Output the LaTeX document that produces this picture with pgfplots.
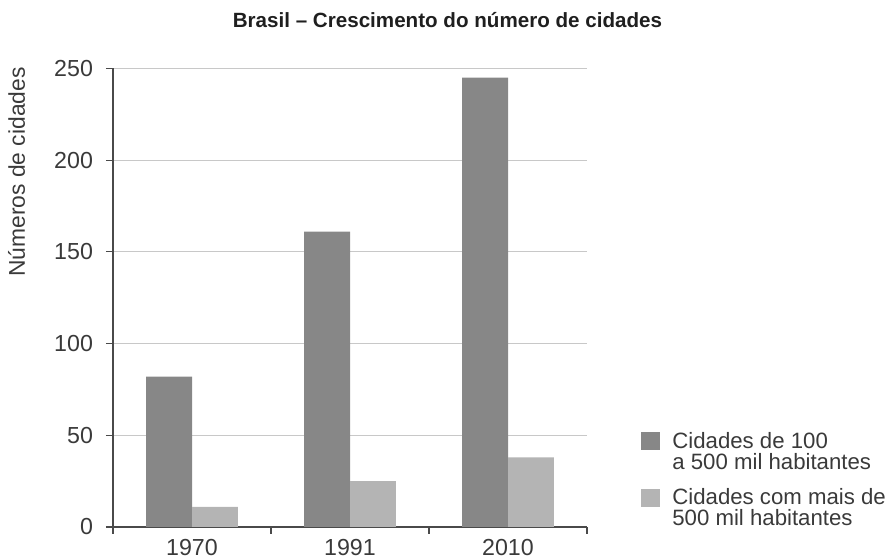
\documentclass[border=0pt]{standalone}
\usepackage{fontspec}
\setmainfont{Liberation Sans}
\usepackage{pgfplots}
\pgfplotsset{compat=1.18}
\definecolor{bardark}{HTML}{878787}
\definecolor{barlight}{HTML}{B4B4B4}
\definecolor{gridc}{HTML}{C8C8C8}
\definecolor{axisc}{HTML}{4A4A4A}
\definecolor{textc}{HTML}{3A3A3A}

\begin{document}
\begin{tikzpicture}
\path[use as bounding box] (-56.5pt,-14.5pt) rectangle (388pt,263.5pt);
\begin{axis}[
    scale only axis,
    width=237pt, height=229.25pt,
    xmin=-0.5, xmax=2.5,
    ymin=0, ymax=250,
    ytick={0,50,...,250},
    ymajorgrids,
    grid style={gridc, line width=0.5pt},
    axis x line=bottom, axis y line=left,
    axis line style={-, axisc, line width=0.6pt},
    tick align=outside,
    major tick length=3.5pt,
    tick style={axisc, line width=0.6pt},
    xtick={-0.5,0.5,1.5,2.5},
    xticklabels={},
    extra x ticks={0,1,2},
    extra x tick labels={1970,1991,2010},
    extra x tick style={major tick length=0pt, xticklabel style={yshift=-2.7pt}},
    /pgf/number format/assume math mode=true,
    ticklabel style={font=\fontsize{11.6pt}{13pt}\selectfont, text=textc},
    yticklabel style={xshift=-3pt},
    every axis title shift=0pt,
    title={Brasil – Crescimento do número de cidades},
    title style={at={(axis description cs:0.7057,1.09)}, anchor=base,
        font=\bfseries\fontsize{10.3pt}{12pt}\selectfont, text=black!88},
    legend cell align=left,
    legend image code/.code={\fill[#1] (0pt,1pt) rectangle (9.5pt,10pt);},
    legend style={at={(axis description cs:1.1139,0.2072)}, anchor=north west,
        draw=none, fill=none, inner sep=0pt, row sep=8pt, column sep=6pt,
        nodes={inner sep=0pt, align=left, text=textc,
            font=\fontsize{11.1pt}{10.5pt}\selectfont}},
]
\addplot[ybar, fill=bardark, draw=none, bar width=0.29, bar shift=-0.145]
    coordinates {(0,82) (1,161) (2,245)};
\addplot[ybar, fill=barlight, draw=none, bar width=0.29, bar shift=0.145]
    coordinates {(0,11) (1,25) (2,38)};
\legend{Cidades de 100\\a 500 mil habitantes, Cidades com mais de\\500 mil habitantes}
\end{axis}
% eixo y: rótulo no alto, como no original
\node[rotate=90, anchor=east, inner sep=0pt, text=textc,
    font=\fontsize{11.4pt}{13pt}\selectfont] at (-48.2pt,230pt) {Números de cidades};
\end{tikzpicture}
\end{document}
